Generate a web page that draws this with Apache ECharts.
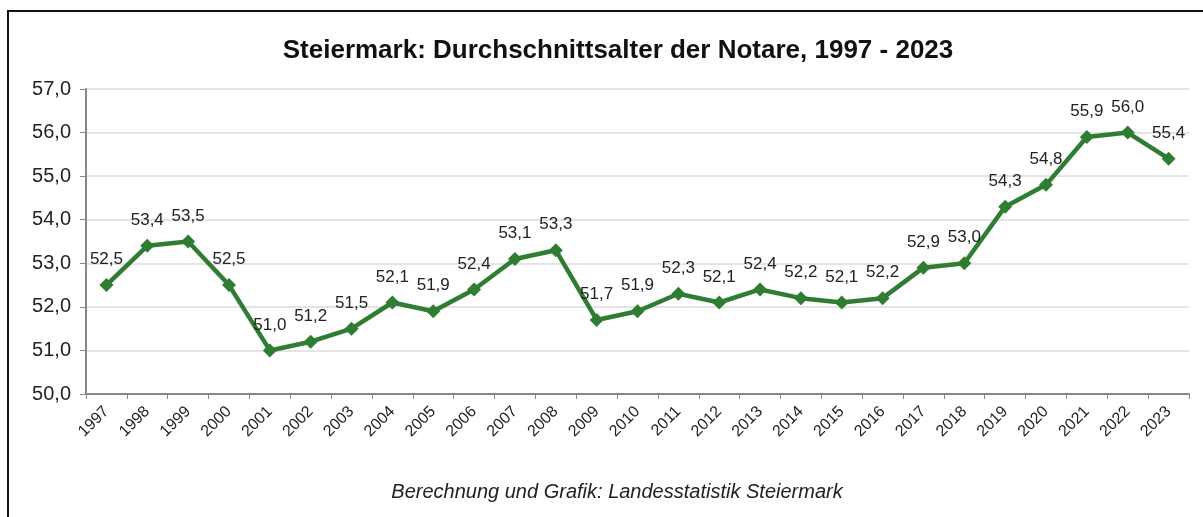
<!DOCTYPE html>
<html>
<head>
<meta charset="utf-8">
<script src="https://cdn.jsdelivr.net/npm/echarts@6/dist/echarts.min.js"></script>
<style>
    html, body { margin: 0; padding: 0; background: #fff; }
    #frame { position: absolute; left: 7px; top: 10px; width: 1200px; height: 510px; border: 2px solid #111; box-sizing: border-box; }
    #chart { position: absolute; left: 0; top: 0; width: 1203px; height: 517px; }
</style>
</head>
<body>
<div id="frame"></div>
<div id="chart"></div>
<script>
// Jahre und Durchschnittsalter
const years = ['1997', '1998', '1999', '2000', '2001', '2002', '2003', '2004', '2005', '2006',
    '2007', '2008', '2009', '2010', '2011', '2012', '2013', '2014', '2015', '2016',
    '2017', '2018', '2019', '2020', '2021', '2022', '2023'];
const avgAge = [52.5, 53.4, 53.5, 52.5, 51.0, 51.2, 51.5, 52.1, 51.9, 52.4,
    53.1, 53.3, 51.7, 51.9, 52.3, 52.1, 52.4, 52.2, 52.1, 52.2,
    52.9, 53.0, 54.3, 54.8, 55.9, 56.0, 55.4];

const fmt = (v) => Number(v).toFixed(1).replace('.', ',');

let chart = echarts.init(document.getElementById('chart'));
chart.setOption({
    animation: false,
    textStyle: { fontFamily: 'Liberation Sans, Arial, sans-serif' },
    title: {
        text: 'Steiermark: Durchschnittsalter der Notare, 1997 - 2023',
        left: 613,
        textAlign: 'center',
        top: 33,
        textStyle: { fontSize: 26, fontWeight: 'bold', color: '#111' }
    },
    graphic: [{
        type: 'text',
        x: 617,
        y: 482,
        style: {
            text: 'Berechnung und Grafik: Landesstatistik Steiermark',
            font: 'italic 20px Liberation Sans, Arial, sans-serif',
            fill: '#222',
            align: 'center'
        }
    }],
    grid: { left: 86, right: 14, top: 89, bottom: 123 },
    xAxis: {
        type: 'category',
        data: years,
        boundaryGap: true,
        axisLine: { lineStyle: { color: '#888', width: 2 } },
        axisTick: { show: true, length: 5, lineStyle: { color: '#888' } },
        axisLabel: { rotate: 45, fontSize: 16, color: '#222', margin: 15 }
    },
    yAxis: {
        type: 'value',
        min: 50,
        max: 57,
        interval: 1,
        axisLine: { show: true, lineStyle: { color: '#888', width: 2 } },
        axisTick: { show: true, length: 6, lineStyle: { color: '#888' } },
        axisLabel: { fontSize: 20, color: '#222', margin: 15, formatter: fmt },
        splitLine: { lineStyle: { color: '#e4e4e4', width: 2 } }
    },
    series: [{
        type: 'line',
        data: avgAge,
        symbol: 'diamond',
        symbolSize: 14,
        lineStyle: { color: '#2e7d32', width: 4.5 },
        itemStyle: { color: '#2e7d32' },
        label: {
            show: true,
            position: 'top',
            distance: 10,
            fontSize: 17,
            color: '#222',
            formatter: (p) => fmt(p.value)
        }
    }]
});
</script>
</body>
</html>
